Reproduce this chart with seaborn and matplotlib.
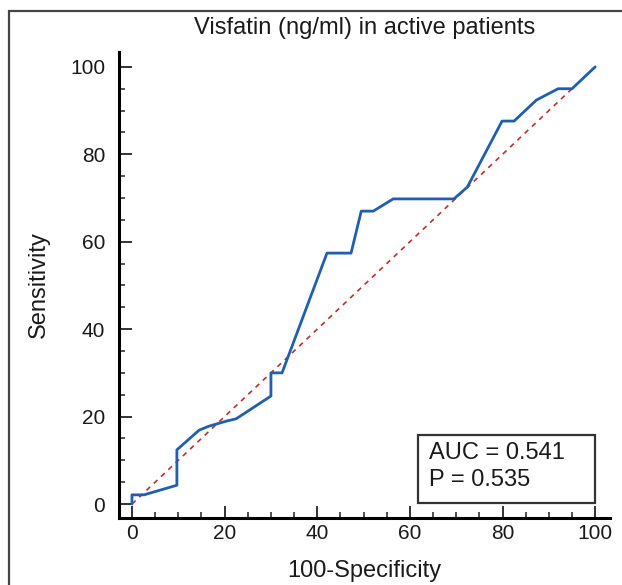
import seaborn as sns
import matplotlib.pyplot as plt
import matplotlib.patches as mpatches
from matplotlib.ticker import MultipleLocator
import pandas as pd

# Puntos de la curva ROC (100-Especificidad, Sensibilidad)
fpr = [0, 0, 2.6, 9.7, 9.7, 14.5, 16.6, 20.5, 22.5, 30, 30, 32.4, 42.1, 47.3,
       49.5, 52.1, 56.4, 69.5, 72.4, 79.9, 82.5, 87.3, 92, 95, 100]
tpr = [0, 2.1, 2.1, 4.3, 12.4, 16.9, 17.8, 19, 19.5, 24.7, 30, 30, 57.4, 57.4,
       67, 67, 69.8, 69.8, 72.5, 87.6, 87.6, 92.4, 95, 95, 100]
diag = [0, 100]

titulo = "Visfatin (ng/ml) in active patients"
auc_txt = "AUC = 0.541"
p_txt = "P = 0.535"

roc_df = pd.DataFrame({"fpr": fpr, "tpr": tpr})
diag_df = pd.DataFrame({"x": diag, "y": diag})

sns.set_style("ticks", {"xtick.direction": "in", "ytick.direction": "in"})
plt.rcParams["font.family"] = ["Liberation Sans", "DejaVu Sans"]
plt.rcParams["xtick.direction"] = "in"
plt.rcParams["ytick.direction"] = "in"

fig = plt.figure(figsize=(6.22, 5.85), dpi=100)
ax = fig.add_axes([0.1913, 0.1145, 0.7894, 0.7966])

# Diagonal de referencia y curva ROC
sns.lineplot(data=diag_df, x="x", y="y", ax=ax, color="#b8322a",
             linewidth=1.2, linestyle=(0, (3, 3)))
sns.lineplot(data=roc_df, x="fpr", y="tpr", ax=ax, sort=False,
             estimator=None, color="#1f5fae", linewidth=2.0)

ax.set_xlim(-2.8, 103.2)
ax.set_ylim(-3.2, 103.4)
ax.xaxis.set_major_locator(MultipleLocator(20))
ax.yaxis.set_major_locator(MultipleLocator(20))
ax.xaxis.set_minor_locator(MultipleLocator(5))
ax.yaxis.set_minor_locator(MultipleLocator(5))

for s in ["top", "right"]:
    ax.spines[s].set_visible(False)
for s in ["left", "bottom"]:
    ax.spines[s].set_color("black")
    ax.spines[s].set_linewidth(2.2)

ax.tick_params(which="both", bottom=True, left=True, top=False, right=False,
               direction="in")
ax.tick_params(which="major", length=9, width=1.4,
               color="#333333", labelsize=15, labelcolor="#1a1a1a")
ax.tick_params(which="minor", length=4, width=1.2, color="#333333")
ax.tick_params(axis="x", which="major", pad=4)
ax.tick_params(axis="y", which="major", pad=10)

ax.set_xlabel("100-Specificity", fontsize=17, color="#1a1a1a")
ax.set_ylabel("Sensitivity", fontsize=17, color="#1a1a1a")
ax.xaxis.set_label_coords(0.5, -0.09)
ax.yaxis.set_label_coords(-0.14, 0.5)

fig.text(365 / 622, 1 - 28 / 585, titulo, ha="center", va="center",
         fontsize=17, color="#1a1a1a")

# Caja con AUC y P
ax.add_patch(mpatches.Rectangle((0.609, 0.032), 0.36, 0.146, transform=ax.transAxes,
                                fill=False, edgecolor="#333333", linewidth=1.6))
ax.text(0.631, 0.139, auc_txt, transform=ax.transAxes, va="center", ha="left",
        fontsize=17, color="#1a1a1a")
ax.text(0.631, 0.0815, p_txt, transform=ax.transAxes, va="center", ha="left",
        fontsize=17, color="#1a1a1a")

# Marco exterior de la figura
fig.patches.append(mpatches.Rectangle((9 / 622, -0.1), 1.2, 1 - 11 / 585 + 0.1,
                                      transform=fig.transFigure, fill=False,
                                      edgecolor="#444444", linewidth=1.6))

fig.savefig("out.png", dpi=100)
